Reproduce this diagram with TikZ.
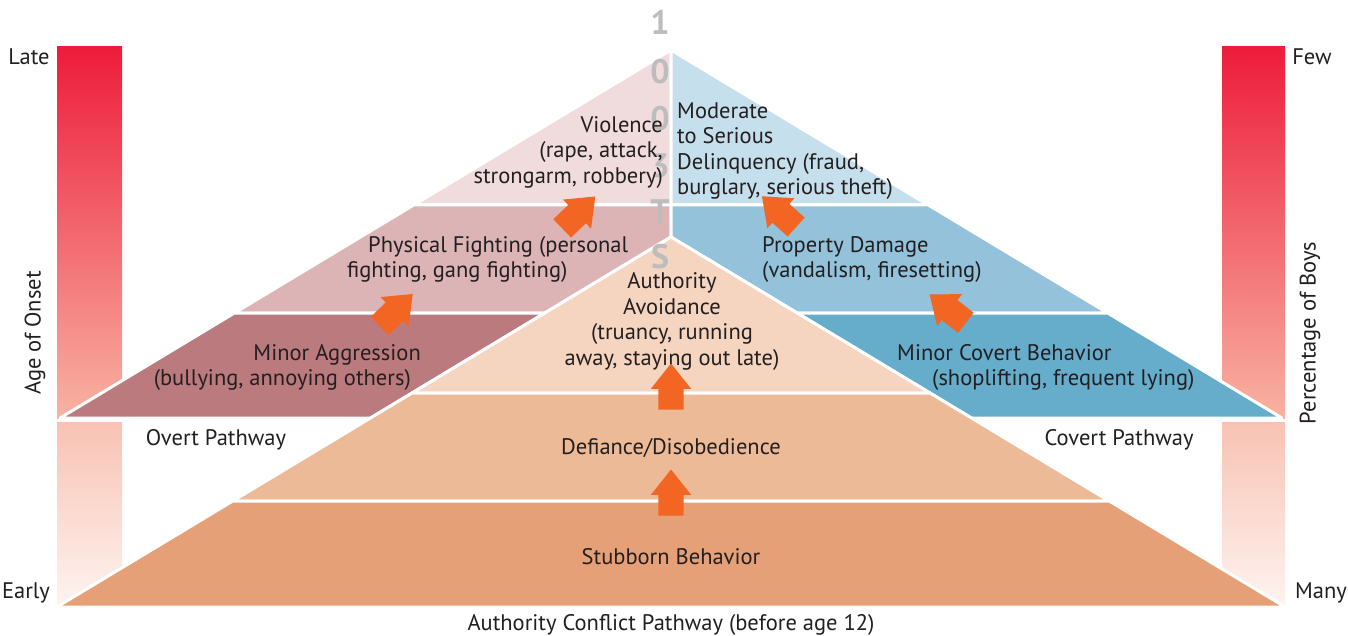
\documentclass[tikz,border=0pt]{standalone}
\usepackage{fontspec}
\setmainfont{PT Sans}
\usetikzlibrary{shapes.arrows}

\definecolor{ink}{HTML}{231F20}
\definecolor{violence}{HTML}{F0DCDC}
\definecolor{fighting}{HTML}{DCB4B6}
\definecolor{aggression}{HTML}{BB7A7E}
\definecolor{delinq}{HTML}{C6DFEC}
\definecolor{damage}{HTML}{93C2DA}
\definecolor{covert}{HTML}{66ACCB}
\definecolor{avoid}{HTML}{F5D5C0}
\definecolor{defiance}{HTML}{EDBA98}
\definecolor{stubborn}{HTML}{E5A077}
\definecolor{arrowor}{HTML}{F26522}
\definecolor{barred}{HTML}{ED1C3A}
\definecolor{barmid}{HTML}{F8B3A3}
\definecolor{barlow}{HTML}{F8C2B3}
\definecolor{barfade}{HTML}{FEF4F1}
\definecolor{digit}{HTML}{BDBDBD}

\begin{document}
\begin{tikzpicture}[x=1pt,y=-1pt,
  band/.style={draw=white, line width=3pt, line join=round},
  lbl/.style={text=ink, font=\fontsize{22.5}{25.5}\selectfont, inner sep=0pt},
  upblock/.style={single arrow, fill=arrowor, draw=none, inner xsep=2pt, inner ysep=12.5pt,
    single arrow head extend=7.5pt, single arrow tip angle=77, minimum height=46pt},
  digitch/.style={text=digit, font=\fontsize{34}{34}\selectfont\bfseries, inner sep=0pt}]
\useasboundingbox (0,0) rectangle (1348,636);

% gradient scales on both sides
\shade[top color=barred, bottom color=barmid] (57,47) rectangle (122,418);
\shade[top color=barlow, bottom color=barfade] (57,422) rectangle (122,607);
\shade[top color=barred, bottom color=barmid] (1222,47) rectangle (1285,418);
\shade[top color=barlow, bottom color=barfade] (1222,422) rectangle (1285,607);

% overt pathway
\path[band, fill=violence] (671,50) -- (413.7,205) -- (671,205) -- cycle;
\path[band, fill=fighting] (413.7,205) -- (234.4,313) -- (544.8,313) -- (671,237) -- (671,205) -- cycle;
\path[band, fill=aggression] (234.4,313) -- (60.1,418) -- (370.5,418) -- (544.8,313) -- cycle;

% covert pathway
\path[band, fill=delinq] (671,50) -- (928.3,205) -- (671,205) -- cycle;
\path[band, fill=damage] (928.3,205) -- (1107.6,313) -- (797.2,313) -- (671,237) -- (671,205) -- cycle;
\path[band, fill=covert] (1107.6,313) -- (1281.9,418) -- (971.5,418) -- (797.2,313) -- cycle;

% authority conflict pathway
\path[band, fill=avoid] (671,237) -- (412,393) -- (930,393) -- cycle;
\path[band, fill=defiance] (412,393) -- (232.8,501) -- (1109.2,501) -- (930,393) -- cycle;
\path[band, fill=stubborn] (232.8,501) -- (56.8,607) -- (1285.2,607) -- (1109.2,501) -- cycle;

% vertical stamp behind the labels
\node[digitch] (d1) at (660,22) {1};
\node[digitch] (d2) at (660,72) {0};
\node[digitch] (d3) at (660,119) {0};
\node[digitch] (d4) at (660,166) {3};
\node[digitch] (d5) at (660,212) {T};
\node[digitch] (d6) at (660,257) {S};

% stage labels
\node[lbl, align=right, anchor=east] (viol) at (663,152.5)
  {Violence\\(rape, attack,\\strongarm, robbery)};
\node[lbl, align=left, anchor=west] (modser) at (677,151)
  {Moderate\\to Serious\\Delinquency (fraud,\\burglary, serious theft)};
\node[lbl, align=left, anchor=west] (phys) at (347,259.5)
  {\hspace*{21pt}Physical Fighting (personal\\fighting, gang fighting)};
\node[lbl, align=right, anchor=east] (minagg) at (421,367.5)
  {Minor Aggression\\(bullying, annoying others)\hspace*{10pt}};
\node[lbl, align=left, anchor=west] (propdam) at (762,259.5)
  {Property Damage\\(vandalism, firesetting)};
\node[lbl, align=left, anchor=west] (mincov) at (897,367.5)
  {Minor Covert Behavior\\\hspace*{35pt}(shoplifting, frequent lying)};
\node[lbl, align=center] (authav) at (672,321.5)
  {Authority\\Avoidance\\(truancy, running\\away, staying out late)};
\node[lbl] (defi) at (671,448) {Defiance/Disobedience};
\node[lbl] (stub) at (671,557) {Stubborn Behavior};

% pathway and scale labels
\node[lbl] (overt) at (216,440) {Overt Pathway};
\node[lbl] (covertp) at (1119,440) {Covert Pathway};
\node[lbl] (acp) at (671,625) {Authority Conflict Pathway (before age 12)};
\node[lbl] (late) at (29,57) {Late};
\node[lbl] (early) at (26,593) {Early};
\node[lbl] (few) at (1312,57) {Few};
\node[lbl] (many) at (1321,593) {Many};
\node[lbl, rotate=90] (onset) at (35,333) {Age of Onset};
\node[lbl, rotate=90] (boys) at (1310,333) {Percentage of Boys};

% progression arrows
\node[upblock, rotate=90] (a1) at (671,394.5) {};
\node[upblock, rotate=90] (a2) at (671,500.5) {};
\node[upblock, rotate=44] (a3) at (390.5,315.5) {};
\node[upblock, rotate=44] (a4) at (573,218) {};
\node[upblock, rotate=138] (a5) at (785,217) {};
\node[upblock, rotate=142] (a6) at (954,313.5) {};
\end{tikzpicture}
\end{document}
